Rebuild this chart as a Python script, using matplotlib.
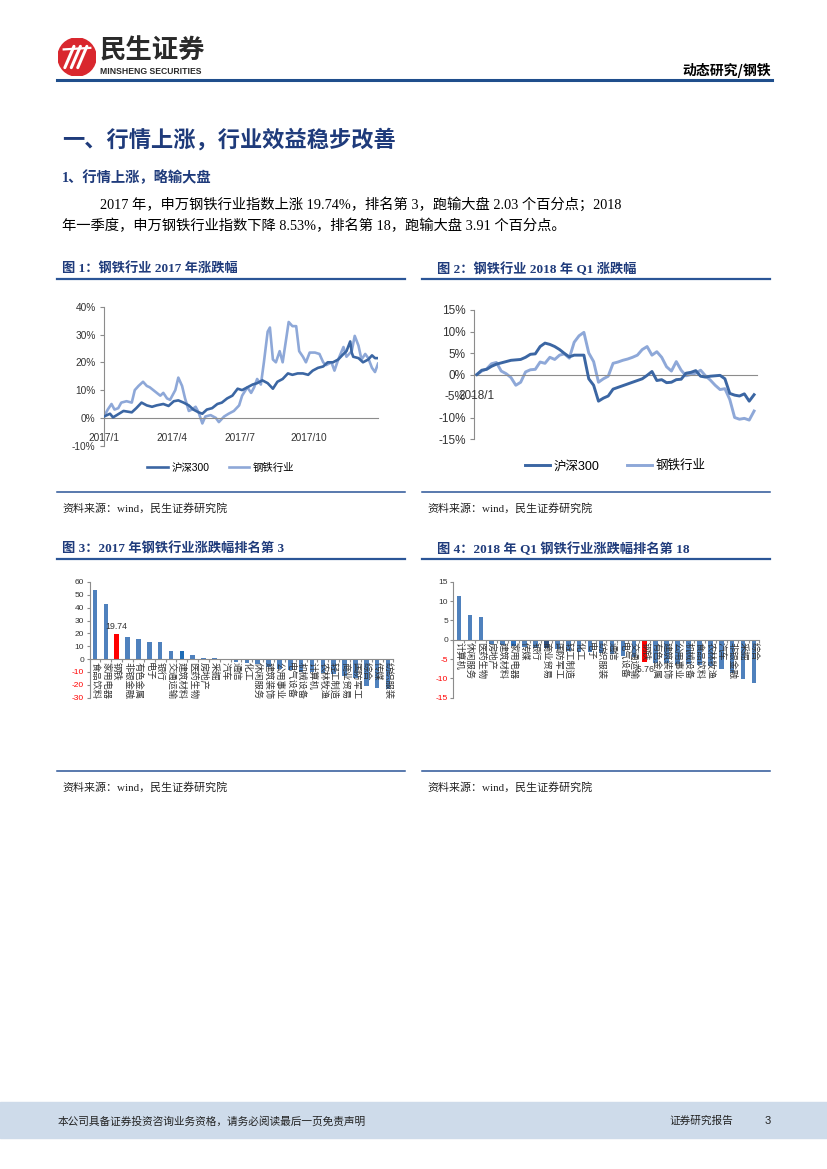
import numpy as np
import matplotlib.pyplot as plt
from matplotlib.lines import Line2D
from matplotlib.patches import Rectangle, Circle

W, H = 827, 1169
CJK = 'Noto Sans CJK SC'
SERIF = ['Liberation Serif', CJK]
SANS = ['Liberation Sans', CJK]
BLUE_TXT = '#1F3B7B'
RULE = '#2B5597'

# ---- chart 1: 2017 (day of year, % change) ----
hs_days_17 = [0, 8, 12, 17, 26, 37, 43, 50, 57, 64, 70, 79, 86, 93, 99, 106, 113, 119, 126, 131,
              137, 144, 151, 157, 164, 171, 178, 184, 191, 198, 204, 211, 218, 225, 231, 238, 245,
              251, 258, 265, 272, 278, 285, 292, 298, 305, 312, 319, 323, 328, 330, 332, 339, 345,
              352, 357, 361, 365]
hs_vals_17 = [0.5, 1.5, 0.2, 1.0, 2.5, 2.0, 3.5, 5.5, 4.5, 4.0, 4.5, 5.0, 4.3, 6.0, 6.3, 5.5, 4.5, 3.0,
              2.0, 1.5, 3.0, 3.5, 5.0, 5.5, 7.0, 8.0, 10.5, 10.0, 11.0, 12.0, 12.5, 13.5, 12.5, 10.5,
              13.0, 14.0, 16.0, 15.5, 16.0, 16.0, 15.5, 17.0, 18.0, 18.5, 20.0, 20.0, 21.0, 23.0,
              24.0, 27.5, 23.5, 22.0, 21.5, 20.0, 21.0, 22.5, 21.5, 21.5]
st_days_17 = [0, 5, 10, 14, 19, 23, 30, 37, 41, 46, 52, 57, 61, 68, 75, 79, 84, 88, 95, 99, 104, 108,
              113, 117, 122, 126, 131, 135, 142, 149, 153, 160, 166, 173, 180, 184, 191, 196, 200,
              204, 209, 213, 218, 221, 225, 229, 234, 238, 243, 246, 251, 256, 260, 265, 269, 274,
              281, 287, 292, 296, 303, 307, 312, 319, 323, 330, 334, 339, 343, 348, 352, 357, 361, 365]
st_vals_17 = [0.5, 3.0, 5.0, 3.0, 3.5, 5.5, 6.0, 5.5, 10.0, 11.5, 13.0, 11.5, 11.0, 9.5, 8.0, 9.0, 7.0,
              6.5, 10.0, 14.5, 11.5, 7.0, 2.5, 3.0, 4.0, 2.0, -2.0, 0.5, 1.0, 0.0, -1.5, 0.5, 1.5, 2.5,
              4.5, 8.0, 11.0, 9.0, 11.0, 14.0, 12.0, 20.0, 31.0, 32.5, 21.0, 20.0, 24.0, 20.0, 29.0,
              34.5, 33.0, 33.0, 24.0, 22.0, 20.0, 23.5, 23.5, 23.0, 20.0, 19.0, 20.0, 17.0, 21.0,
              25.5, 22.0, 24.0, 29.5, 26.0, 21.0, 23.0, 21.5, 18.0, 16.5, 19.5]
ticks_17 = [0, 90, 181, 273]
tick_labels_17 = ['2017/1', '2017/4', '2017/7', '2017/10']

# ---- chart 2: 2018 Q1 (trading day, % change) ----
hs_vals_18 = [0.0, 1.0, 1.2, 1.9, 2.4, 2.7, 3.0, 3.3, 3.4, 3.5, 4.0, 4.7, 4.8, 6.5, 7.3, 7.0, 6.5, 5.8,
              4.9, 4.1, 4.5, 4.5, 4.5, -1.0, -2.5, -6.2, -5.5, -5.0, -3.4, -3.0, -2.6, -2.2, -1.8,
              -1.4, -1.0, -0.2, 0.7, -1.4, -1.2, -1.9, -1.8, -1.2, -1.1, 0.3, 0.5, 0.9, -0.4, -0.6,
              -0.4, -0.3, -0.2, -1.0, -4.4, -4.8, -5.0, -4.5, -6.2, -4.7]
st_vals_18 = [0.0, 0.8, 1.3, 2.5, 2.8, 0.8, 0.2, -0.7, -2.5, -1.8, 0.6, 1.1, 1.2, 2.9, 2.6, 4.0, 3.5,
              4.5, 4.8, 3.8, 7.5, 9.0, 9.8, 5.0, 3.0, -1.8, -1.0, -0.4, 2.6, 2.9, 3.3, 3.6, 4.0, 4.5,
              5.8, 6.5, 4.5, 5.3, 4.0, 1.8, 0.8, 3.0, 1.0, -0.3, 0.0, 0.3, 1.0, -0.3, -1.3, -2.5,
              -3.5, -3.3, -5.8, -10.0, -10.4, -10.2, -10.6, -8.5]

# ---- chart 3: 2017 industry ranking ----
cats_17 = ['食品饮料', '家用电器', '钢铁', '非银金融', '有色金属', '电子', '银行', '交通运输', '建筑材料',
           '医药生物', '房地产', '采掘', '汽车', '通信', '化工', '休闲服务', '建筑装饰', '公用事业',
           '电气设备', '机械设备', '计算机', '农林牧渔', '轻工制造', '商业贸易', '国防军工', '综合',
           '传媒', '纺织服装']
rank_17 = [53.5, 43.0, 19.74, 17.5, 15.5, 13.5, 13.5, 6.5, 6.0, 3.5, 1.0, 0.4, 0.3, -2.5, -3.5, -4.0,
           -6.5, -7.5, -8.5, -10.0, -10.5, -11.0, -12.0, -13.0, -15.0, -21.0, -22.5, -23.5]

# ---- chart 4: 2018 Q1 industry ranking ----
cats_18 = ['计算机', '休闲服务', '医药生物', '房地产', '建筑材料', '家用电器', '传媒', '银行', '商业贸易',
           '国防军工', '轻工制造', '化工', '电子', '纺织服装', '通信', '电气设备', '交通运输', '钢铁',
           '有色金属', '建筑装饰', '公用事业', '机械设备', '食品饮料', '农林牧渔', '汽车', '非银金融',
           '采掘', '综合']
rank_18 = [11.4, 6.5, 6.0, -1.2, -1.3, -1.6, -1.8, -2.1, -2.2, -2.3, -2.8, -3.1, -3.3, -3.5, -3.8,
           -4.1, -4.5, -5.76, -5.9, -6.0, -6.2, -6.3, -6.5, -6.7, -7.7, -8.5, -10.1, -11.2]

fig = plt.figure(figsize=(W / 100, H / 100), dpi=100)


def px_axes(l, t, r, b):
    return fig.add_axes([l / W, 1 - b / H, (r - l) / W, (b - t) / H])


def ftext(x, y, s, **kw):
    fig.text(x / W, 1 - y / H, s, **kw)


def hline(x1, x2, y, color, lw):
    fig.add_artist(Line2D([x1 / W, x2 / W], [1 - y / H, 1 - y / H], color=color, lw=lw,
                          transform=fig.transFigure))


# header
logo = px_axes(58, 38, 96, 76)
logo.set_xlim(0, 1)
logo.set_ylim(0, 1)
logo.set_aspect('equal')
logo.axis('off')
logo.add_patch(Circle((0.5, 0.5), 0.5, color='#D9272E'))
for dx in [0.0, 0.17, 0.34]:
    logo.plot([0.18 + dx, 0.42 + dx], [0.22, 0.78], color='white', lw=2.2, solid_capstyle='round')
logo.plot([0.15, 0.85], [0.7, 0.74], color='white', lw=1.6)
ftext(100, 51, '民生证券', fontsize=19, fontweight='bold', family=CJK, color='#2A2A2A', va='center')
ftext(100, 72, 'MINSHENG SECURITIES', fontsize=6.2, fontweight='bold', family='Liberation Sans',
      color='#2A2A2A', va='center')
ftext(771, 70, '动态研究/钢铁', fontsize=10, fontweight='bold', family=CJK, ha='right', va='center')
hline(57, 772, 80, '#1F4E8C', 2.2)

# headings and paragraph
ftext(62, 140, '一、行情上涨，行业效益稳步改善', fontsize=16, fontweight='bold', family=CJK,
      color=BLUE_TXT, va='center')
ftext(62, 178, '1、行情上涨，略输大盘', fontsize=10.3, fontweight='bold', family=SERIF,
      color=BLUE_TXT, va='center')
ftext(100, 204, '2017 年，申万钢铁行业指数上涨 19.74%，排名第 3，跑输大盘 2.03 个百分点；2018',
      fontsize=10.3, family=SERIF, va='center')
ftext(62, 226, '年一季度，申万钢铁行业指数下降 8.53%，排名第 18，跑输大盘 3.91 个百分点。',
      fontsize=10.3, family=SERIF, va='center')

# figure titles and rules
for x0, x1, tx, y, title in [(57, 405, 62, 269, '图 1：钢铁行业 2017 年涨跌幅'),
                             (422, 770, 437, 269, '图 2：钢铁行业 2018 年 Q1 涨跌幅'),
                             (57, 405, 62, 549, '图 3：2017 年钢铁行业涨跌幅排名第 3'),
                             (422, 770, 437, 549, '图 4：2018 年 Q1 钢铁行业涨跌幅排名第 18')]:
    ftext(tx, y, title, fontsize=9.5, fontweight='bold', family=SERIF, color=BLUE_TXT,
          va='center')
    hline(x0, x1, y + 10, RULE, 1.6)
for x0, x1, y in [(57, 405, 492), (422, 770, 492), (57, 405, 771), (422, 770, 771)]:
    hline(x0, x1, y, RULE, 1.1)
    ftext(x0 + 5, y + 16, '资料来源：wind，民生证券研究院', fontsize=7.9, family=SERIF,
          color='#222222', va='center')

DARK = '#3B66A3'
LIGHT = '#8EA8D8'
AXC = '#8C8C8C'

# chart 1
ax1 = px_axes(104, 306.7, 378, 445.7)
l1, = ax1.plot(hs_days_17, hs_vals_17, color=DARK, lw=1.9, label='沪深300', zorder=3)
l2, = ax1.plot(st_days_17, st_vals_17, color=LIGHT, lw=1.9, label='钢铁行业', zorder=2)
ax1.set_xlim(0, 365)
ax1.set_ylim(-10, 40)
ax1.set_yticks([-10, 0, 10, 20, 30, 40], ['-10%', '0%', '10%', '20%', '30%', '40%'])
ax1.set_xticks(ticks_17, tick_labels_17)
for s in ['top', 'right']:
    ax1.spines[s].set_visible(False)
ax1.spines['bottom'].set_position(('data', 0))
ax1.spines['left'].set_color(AXC)
ax1.spines['bottom'].set_color(AXC)
ax1.tick_params(axis='y', length=3, color=AXC, labelsize=7.3, pad=3, labelcolor='#333333')
ax1.tick_params(axis='x', length=0, labelsize=7.3, pad=11, labelcolor='#333333')
for lab in ax1.get_xticklabels() + ax1.get_yticklabels():
    lab.set_family('Liberation Sans')
fig.legend(handles=[l1, l2], loc='center', bbox_to_anchor=(221 / W, 1 - 468 / H), ncol=2,
           frameon=False, prop={'family': SANS, 'size': 7.5}, handlelength=2.0,
           handletextpad=0.35, columnspacing=1.8)

# chart 2
ax2 = px_axes(474, 310, 757, 439)
days_18 = np.arange(len(hs_vals_18))
m1, = ax2.plot(days_18, hs_vals_18, color=DARK, lw=2.1, label='沪深300', zorder=3)
m2, = ax2.plot(days_18, st_vals_18, color=LIGHT, lw=2.1, label='钢铁行业', zorder=2)
ax2.set_xlim(-0.6, 57.6)
ax2.set_ylim(-15, 15)
ax2.set_yticks([-15, -10, -5, 0, 5, 10, 15], ['-15%', '-10%', '-5%', '0%', '5%', '10%', '15%'])
ax2.set_xticks([])
for s in ['top', 'right']:
    ax2.spines[s].set_visible(False)
ax2.spines['bottom'].set_position(('data', 0))
ax2.spines['left'].set_color(AXC)
ax2.spines['bottom'].set_color(AXC)
ax2.tick_params(axis='y', length=3, color=AXC, labelsize=8.5, pad=3, labelcolor='#333333')
for lab in ax2.get_yticklabels():
    lab.set_family('Liberation Sans')
ax2.text(0, -5, '2018/1', ha='center', va='center', fontsize=8.5, family='Liberation Sans',
         color='#333333')
fig.legend(handles=[m1, m2], loc='center', bbox_to_anchor=(615 / W, 1 - 466 / H), ncol=2,
           frameon=False, prop={'family': SANS, 'size': 9}, handlelength=2.0,
           handletextpad=0.3, columnspacing=2.2)


def rank_chart(ax, cats, vals, colors, ylim, yticks, lab_idx, lab_txt, lab_above):
    x = np.arange(len(cats))
    ax.bar(x, vals, width=0.42, color=colors, zorder=2)
    ax.set_xlim(-0.5, len(cats) - 0.5)
    ax.set_ylim(*ylim)
    ax.set_yticks(yticks, [str(v) for v in yticks])
    for lab, v in zip(ax.get_yticklabels(), yticks):
        lab.set_color('#FF0000' if v < 0 else '#333333')
        lab.set_family('Liberation Sans')
    ax.set_xticks(np.arange(-0.5, len(cats), 1), [''] * (len(cats) + 1))
    for s in ['top', 'right']:
        ax.spines[s].set_visible(False)
    ax.spines['bottom'].set_position(('data', 0))
    ax.spines['left'].set_color(AXC)
    ax.spines['bottom'].set_color(AXC)
    ax.tick_params(axis='y', length=2.5, color=AXC, labelsize=6, pad=1.5)
    ax.tick_params(axis='x', length=2.5, color=AXC)
    for i, c in enumerate(cats):
        ax.annotate(c, (i, 0), xytext=(0, -2), textcoords='offset points', rotation=270,
                    ha='center', va='top', fontsize=6.7, family=CJK, color='#333333', zorder=4)
    off = 2 if lab_above else -2
    ax.annotate(lab_txt, (lab_idx, vals[lab_idx]), xytext=(0, off), textcoords='offset points',
                ha='center', va='bottom' if lab_above else 'top', fontsize=6.3,
                family='Liberation Sans', color='#333333', zorder=5)


BAR = '#4F81BD'
colors_17 = [BAR] * len(cats_17)
colors_17[cats_17.index('钢铁')] = '#FF0000'
colors_17[cats_17.index('建筑材料')] = '#1F6DB6'
ax3 = px_axes(89.6, 582, 393.4, 697.5)
rank_chart(ax3, cats_17, rank_17, colors_17, (-30, 60), [-30, -20, -10, 0, 10, 20, 30, 40, 50, 60],
           cats_17.index('钢铁'), '19.74', True)

colors_18 = [BAR] * len(cats_18)
colors_18[cats_18.index('钢铁')] = '#FF0000'
colors_18[cats_18.index('家用电器')] = '#2E75C8'
colors_18[cats_18.index('商业贸易')] = '#2D4E80'
ax4 = px_axes(453.5, 581.7, 759.5, 697.7)
rank_chart(ax4, cats_18, rank_18, colors_18, (-15, 15), [-15, -10, -5, 0, 5, 10, 15],
           cats_18.index('钢铁'), '-5.76', False)

# footer
fig.add_artist(Rectangle((0, 1 - 1138 / H), 1, 36 / H, transform=fig.transFigure,
                         color='#CEDBEA', zorder=0))
ftext(58, 1121, '本公司具备证券投资咨询业务资格，请务必阅读最后一页免责声明', fontsize=7.7,
      family=CJK, color='#222222', va='center')
ftext(670, 1121, '证券研究报告', fontsize=7.7, family=CJK, color='#222222', va='center')
ftext(765, 1121, '3', fontsize=8, family='Liberation Sans', color='#222222', va='center')

fig.savefig('out.png', dpi=100)
